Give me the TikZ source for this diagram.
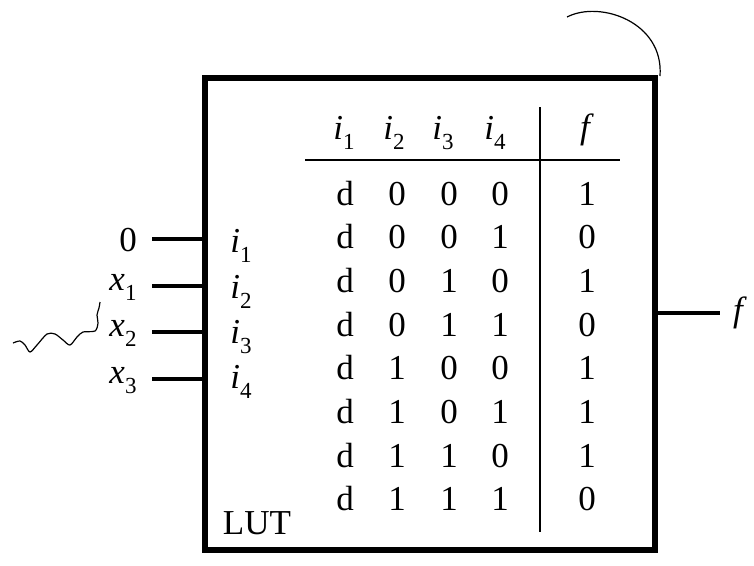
\documentclass[tikz,border=0pt]{standalone}
\usepackage{fontspec}
\setmainfont{Liberation Serif}
\newcommand\lsub[1]{\raisebox{-0.3em}{\fontsize{23}{25}\selectfont #1}}
\tikzset{
  lbl/.style={inner sep=0pt, anchor=base, font=\fontsize{35}{40}\selectfont},
  lead/.style={line width=3.8pt},
  rule/.style={line width=2.6pt},
  thin/.style={line width=1.2pt},
}
\begin{document}
\begin{tikzpicture}[x=1pt,y=-1pt]
\useasboundingbox (0,0) rectangle (754,565);
% LUT box
\node[draw, line width=6.5pt, minimum width=450pt, minimum height=472pt, inner sep=0pt] (lut) at (430,314) {};
% inputs
\node[lbl] (n0) at (128,251) {0};
\node[lbl] (n1) at (123,290) {\textit{x}\lsub{1}};
\node[lbl] (n2) at (123,336) {\textit{x}\lsub{2}};
\node[lbl] (n3) at (123,383) {\textit{x}\lsub{3}};
\coordinate (a0) at (152,239);
\coordinate (a1) at (152,286);
\coordinate (a2) at (152,332);
\coordinate (a3) at (152,379);
\foreach \k in {0,1,2,3} \draw[lead] (a\k) -- (a\k -| lut.west);
% internal input names
\node[lbl] (p1) at (241,252) {\textit{i}\lsub{1}};
\node[lbl] (p2) at (241,298) {\textit{i}\lsub{2}};
\node[lbl] (p3) at (241,343) {\textit{i}\lsub{3}};
\node[lbl] (p4) at (241,388) {\textit{i}\lsub{4}};
% output
\coordinate (o) at (720,313);
\draw[lead] (lut.east |- o) -- (o);
\node[lbl] (fo) at (740,321) {\textit{f}};
% table header
\node[lbl] (h1) at (344,139) {\textit{i}\lsub{1}};
\node[lbl] (h2) at (394,139) {\textit{i}\lsub{2}};
\node[lbl] (h3) at (443,139) {\textit{i}\lsub{3}};
\node[lbl] (h4) at (495,139) {\textit{i}\lsub{4}};
\node[lbl] (hf) at (587,138) {\textit{f}};
\coordinate (rl) at (305,160);
\coordinate (rr) at (620,160);
\coordinate (vt) at (540,107);
\coordinate (vb) at (540,532);
\draw[rule] (rl) -- (rr);
\draw[rule] (vt) -- (vb);
% table rows
\foreach \a/\b/\c/\f [count=\k from 0] in {0/0/0/1, 0/0/1/0, 0/1/0/1, 0/1/1/0, 1/0/0/1, 1/0/1/1, 1/1/0/1, 1/1/1/0} {
  \pgfmathsetmacro\yy{205+43.7*\k}
  \node[lbl] (d\k) at (345,\yy) {d};
  \node[lbl] (a\k) at (397,\yy) {\a};
  \node[lbl] (b\k) at (449,\yy) {\b};
  \node[lbl] (c\k) at (500,\yy) {\c};
  \node[lbl] (f\k) at (587,\yy) {\f};
}
\node[lbl] (name) at (257,534) {LUT};
% annotations
\coordinate (ca) at (567,17);
\coordinate (cb) at (660,76);
\draw[thin] (ca) .. controls (600,0) and (664,22) .. (cb);
\draw[thin] plot[smooth] coordinates {(13,343) (20,341) (25,345) (30,352) (37,345) (47,334) (55,334) (63,340) (70,345) (77,337) (83,332) (95,331) (98,323) (97,315) (99,308) (100,302)};
\end{tikzpicture}
\end{document}
